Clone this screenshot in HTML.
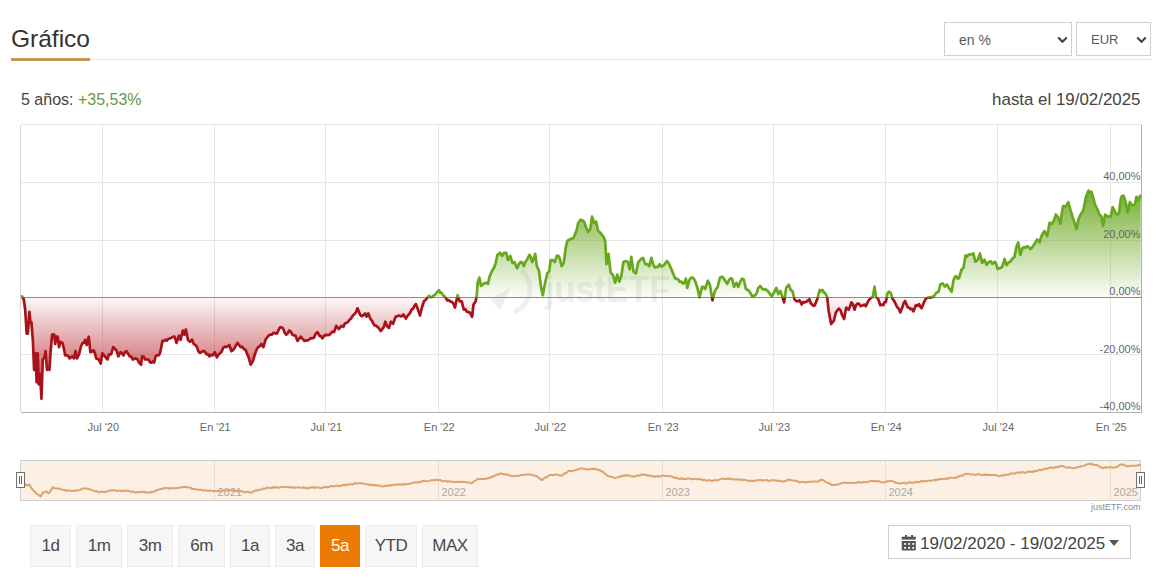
<!DOCTYPE html>
<html><head><meta charset="utf-8">
<style>
html,body{margin:0;padding:0;background:#fff;}
body{width:1157px;height:580px;position:relative;overflow:hidden;font-family:"Liberation Sans",sans-serif;color:#444;}
.abs{position:absolute;white-space:nowrap;}
.title{left:11px;top:24px;font-size:24.5px;color:#333;line-height:30px;}
.uline{left:11px;top:59px;width:1140px;height:1px;background:#e3e3e3;}
.oline{left:11px;top:58px;width:79px;height:3px;background:#c4974f;}
.sel{position:absolute;top:22px;height:32px;border:1px solid #cfcfcf;background:#fff;font-size:14px;color:#5a5a5a;line-height:34px;}
.chev{position:absolute;top:12px;width:6px;height:6px;border-right:2px solid #444;border-bottom:2px solid #444;transform:rotate(45deg);}
.perf{left:21px;top:88.5px;font-size:16px;line-height:22px;color:#444;}
.perf span{color:#679a45;}
.hasta{right:16.5px;top:89px;font-size:16.9px;line-height:22px;color:#444;}
.btn{position:absolute;top:525px;height:42px;border:1px solid #ececec;background:#f6f6f6;font-size:17px;line-height:40px;text-align:center;color:#4a4a4a;box-sizing:border-box;letter-spacing:-0.5px;}
.btn.act{background:#eb7a04;border-color:#eb7a04;color:#fffaf0;}
.date{left:888px;top:525px;width:241px;height:32px;border:1px solid #cfcfcf;font-size:17px;line-height:32px;color:#444;}
</style></head><body>
<svg width="1157" height="580" viewBox="0 0 1157 580" style="position:absolute;left:0;top:0">
<defs>
  <linearGradient id="gG" gradientUnits="userSpaceOnUse" x1="0" y1="190" x2="0" y2="297.5">
    <stop offset="0" stop-color="#6aa820" stop-opacity="0.92"/>
    <stop offset="1" stop-color="#6aa820" stop-opacity="0.02"/>
  </linearGradient>
  <linearGradient id="gR" gradientUnits="userSpaceOnUse" x1="0" y1="297.5" x2="0" y2="400">
    <stop offset="0" stop-color="#b5121b" stop-opacity="0.03"/>
    <stop offset="1" stop-color="#b5121b" stop-opacity="0.85"/>
  </linearGradient>
  <clipPath id="cUp"><rect x="0" y="0" width="1157" height="297.5"/></clipPath>
  <clipPath id="cDn"><rect x="0" y="297.5" width="1157" height="300"/></clipPath>
</defs>
<g stroke="#e6e6e6" stroke-width="1" fill="none" shape-rendering="crispEdges">
  <line x1="102.5" y1="124.5" x2="102.5" y2="412.0" /><line x1="214.5" y1="124.5" x2="214.5" y2="412.0" /><line x1="325.5" y1="124.5" x2="325.5" y2="412.0" /><line x1="438.5" y1="124.5" x2="438.5" y2="412.0" /><line x1="549.5" y1="124.5" x2="549.5" y2="412.0" /><line x1="662.5" y1="124.5" x2="662.5" y2="412.0" /><line x1="773.5" y1="124.5" x2="773.5" y2="412.0" /><line x1="885.5" y1="124.5" x2="885.5" y2="412.0" /><line x1="997.5" y1="124.5" x2="997.5" y2="412.0" /><line x1="1110.5" y1="124.5" x2="1110.5" y2="412.0" />
  <line x1="20.5" y1="182.5" x2="1141.5" y2="182.5" /><line x1="20.5" y1="240.5" x2="1141.5" y2="240.5" /><line x1="20.5" y1="354.5" x2="1141.5" y2="354.5" />
  <line x1="20.5" y1="124.5" x2="1141.5" y2="124.5" />
  <line x1="1141.5" y1="124.5" x2="1141.5" y2="412.0" stroke="#b0b0b0"/>
  <line x1="20.5" y1="124.5" x2="20.5" y2="412.0" stroke="#d8d8d8"/>
</g>
<g opacity="0.06" fill="#000">
  <path d="M521.4 270.6 A24 24 0 0 1 514.2 311.6" fill="none" stroke="#000" stroke-width="5"/>
  <path d="M490 298.7 L510.3 288 L500.2 309.9 Z" fill="#000"/>
  <text x="545" y="301.5" font-size="37" font-weight="bold" font-family="Liberation Sans, sans-serif" textLength="125" lengthAdjust="spacingAndGlyphs">justETF</text>
</g>
<path d="M20.8 297.5 L20.8 297.0 L22.1 296.4 L23.8 299.5 L25.2 309.8 L26.7 333.6 L27.9 333.6 L29.4 311.9 L30.4 322.2 L31.4 322.2 L32.9 340.9 L34.1 369.8 L35.6 353.3 L36.6 382.2 L37.7 353.3 L38.7 384.3 L40.1 374.0 L41.4 398.8 L42.8 359.5 L44.5 357.4 L45.5 351.2 L47.0 369.8 L48.4 367.8 L49.4 369.8 L50.5 353.3 L52.1 334.7 L54.2 334.7 L55.2 344.0 L56.3 336.7 L57.7 336.7 L59.0 347.1 L60.4 341.9 L62.5 342.9 L63.9 348.6 L65.2 355.4 L67.6 355.4 L69.7 358.4 L72.2 356.4 L73.9 358.4 L75.5 351.2 L77.0 358.4 L79.0 354.3 L81.1 346.0 L82.4 343.3 L83.8 342.9 L85.2 339.8 L86.7 345.0 L88.7 336.7 L90.4 352.2 L92.0 351.7 L93.5 350.2 L94.8 352.9 L96.2 358.4 L98.7 359.5 L100.7 363.6 L102.4 353.3 L104.9 356.4 L107.4 359.5 L109.0 354.3 L111.1 354.3 L113.2 347.1 L114.8 348.8 L116.3 350.2 L118.3 356.4 L120.4 352.2 L122.0 353.4 L123.5 355.4 L125.0 351.9 L126.6 351.2 L128.1 353.8 L129.7 356.4 L131.2 356.5 L132.8 359.5 L134.4 358.7 L135.9 358.4 L137.4 359.1 L139.0 362.6 L141.1 364.7 L142.1 356.4 L143.6 356.6 L145.2 359.5 L146.8 359.3 L148.3 359.5 L149.9 362.1 L151.4 362.6 L152.8 361.4 L154.1 362.6 L155.6 356.4 L157.1 355.0 L158.7 355.4 L160.0 353.3 L162.5 340.9 L163.8 340.8 L165.2 339.8 L166.8 340.7 L168.3 338.8 L169.9 338.5 L171.4 337.8 L172.9 336.9 L174.5 336.7 L176.5 342.9 L179.0 335.7 L180.7 339.8 L182.8 330.5 L184.4 334.7 L185.9 329.5 L187.9 339.8 L190.0 341.9 L192.1 339.8 L193.6 343.9 L195.2 345.0 L196.8 346.6 L198.3 351.2 L199.9 352.8 L201.4 352.2 L202.9 351.0 L204.5 351.2 L206.5 354.3 L208.1 354.2 L209.6 356.4 L211.2 354.7 L212.8 355.4 L214.8 352.2 L216.9 357.4 L218.4 354.7 L220.0 353.3 L221.6 351.7 L223.1 348.1 L224.6 346.6 L226.2 347.1 L227.8 346.3 L229.3 345.0 L231.4 351.2 L232.9 350.1 L234.5 348.1 L236.1 345.1 L237.6 342.9 L239.1 345.2 L240.7 347.1 L242.2 346.7 L243.8 349.1 L245.4 349.8 L246.9 353.3 L249.0 358.5 L250.6 364.7 L252.7 361.6 L255.2 353.3 L256.8 349.3 L258.3 347.1 L259.9 346.1 L261.4 344.0 L263.4 347.1 L265.5 339.8 L267.1 337.5 L268.6 335.7 L270.1 334.6 L271.7 334.7 L273.8 332.6 L275.4 333.4 L276.9 333.6 L278.4 330.4 L280.0 327.4 L281.6 327.3 L283.1 328.5 L284.6 332.5 L286.2 334.7 L287.8 333.2 L289.3 330.5 L290.9 331.8 L292.4 334.7 L293.9 335.4 L295.5 335.7 L297.6 340.9 L299.1 338.9 L300.7 336.7 L303.1 339.3 L304.6 341.0 L306.2 340.3 L307.8 340.5 L309.3 339.3 L310.9 338.1 L312.4 338.3 L313.9 337.7 L315.5 334.1 L317.6 332.1 L319.7 336.2 L321.0 336.0 L322.3 338.3 L324.8 335.2 L326.4 334.9 L327.9 335.2 L329.4 335.0 L331.0 333.1 L332.6 331.5 L334.1 332.1 L336.2 325.9 L337.5 327.4 L338.9 329.0 L341.4 325.9 L343.4 326.9 L344.9 323.4 L346.5 322.8 L348.1 321.8 L349.6 319.7 L351.2 318.4 L352.8 315.5 L354.4 314.2 L355.9 312.4 L357.5 308.3 L360.0 314.5 L361.6 316.2 L363.1 315.5 L365.2 313.5 L366.6 316.6 L368.3 313.5 L370.3 318.6 L371.9 320.6 L373.4 323.8 L374.9 325.5 L376.5 325.9 L378.6 327.9 L380.7 331.0 L382.2 329.3 L383.8 326.9 L385.4 321.7 L386.9 325.9 L389.0 327.9 L391.0 321.7 L393.1 323.8 L395.6 316.6 L397.2 316.3 L398.9 315.5 L401.4 316.6 L403.4 314.5 L405.9 318.6 L407.2 316.4 L408.6 314.5 L410.1 313.0 L411.7 309.3 L413.1 309.0 L414.4 305.8 L415.8 304.1 L417.5 308.3 L420.0 315.5 L422.0 307.2 L424.1 301.0 L425.6 300.0 L427.2 297.9 L428.8 296.0 L430.3 296.9 L431.9 297.0 L433.4 295.9 L434.9 294.8 L436.5 292.8 L439.0 290.1 L440.4 293.0 L441.7 292.8 L443.1 295.5 L444.6 296.2 L447.2 300.4 L448.8 300.2 L450.3 301.4 L451.9 302.1 L453.4 303.5 L454.9 307.6 L456.2 301.9 L457.6 295.2 L459.7 301.4 L461.7 301.4 L463.8 309.7 L465.4 309.2 L466.9 311.7 L468.4 312.1 L470.0 312.8 L472.1 316.9 L473.5 304.5 L475.6 301.4 L476.8 295.2 L477.6 282.8 L479.3 277.6 L481.0 285.9 L483.4 283.8 L485.9 282.8 L488.0 283.8 L489.6 276.6 L491.7 271.4 L493.8 268.3 L495.4 264.1 L497.5 254.8 L500.0 252.8 L502.1 255.9 L504.1 252.8 L506.2 252.8 L507.9 260.0 L510.3 255.9 L512.4 263.1 L514.5 262.1 L517.0 268.3 L519.0 264.1 L520.4 262.0 L521.7 262.1 L523.8 266.2 L525.3 261.9 L526.9 260.0 L529.4 254.8 L530.8 257.0 L532.1 262.1 L533.7 258.8 L535.2 253.8 L536.8 266.2 L538.9 270.3 L541.0 286.9 L542.8 295.2 L545.1 282.8 L547.2 273.5 L549.2 271.4 L550.7 260.0 L552.7 260.0 L554.8 262.1 L556.9 255.9 L558.2 255.7 L559.6 257.9 L561.6 266.2 L563.7 263.1 L565.8 247.6 L567.2 241.4 L568.8 239.5 L570.3 239.3 L571.8 238.5 L573.4 238.3 L575.5 233.1 L576.9 229.1 L578.2 222.8 L580.7 219.7 L583.1 220.7 L584.5 222.5 L585.8 226.9 L588.3 232.1 L590.3 229.0 L592.0 216.6 L594.1 222.8 L596.1 221.7 L598.2 231.0 L600.7 233.1 L602.2 235.0 L603.8 237.2 L605.2 241.4 L606.5 264.1 L608.5 253.8 L610.6 272.4 L613.1 275.5 L615.2 282.8 L617.2 274.5 L619.3 281.7 L621.4 275.5 L623.4 262.1 L625.9 261.0 L628.0 262.1 L629.6 269.3 L631.3 256.9 L633.4 271.4 L635.9 273.5 L638.3 262.1 L639.6 260.7 L641.0 259.0 L643.1 257.9 L645.2 264.1 L647.2 264.1 L649.3 266.2 L651.4 257.9 L653.4 265.2 L655.0 267.4 L656.5 267.2 L658.0 266.7 L659.6 264.1 L661.0 266.3 L662.3 266.2 L664.8 264.1 L666.9 261.0 L668.5 262.9 L670.0 266.2 L671.4 269.0 L672.7 272.4 L675.2 278.6 L676.8 278.7 L678.3 279.7 L679.8 281.9 L681.4 281.7 L683.0 283.7 L684.5 282.8 L685.9 278.6 L687.2 287.9 L689.6 279.7 L691.2 277.5 L692.7 277.6 L694.2 279.2 L695.8 282.8 L697.3 287.6 L698.9 294.1 L699.6 297.2 L702.1 286.9 L703.7 287.1 L705.2 289.0 L707.8 280.7 L709.9 284.8 L712.4 300.4 L714.9 291.0 L716.2 288.9 L717.6 286.9 L720.0 277.6 L722.1 276.6 L724.6 279.7 L725.9 282.0 L727.2 283.8 L729.3 279.7 L730.6 278.4 L732.0 278.6 L734.1 286.9 L736.5 282.8 L738.2 286.9 L740.7 280.7 L742.2 278.6 L743.8 279.7 L745.9 289.0 L747.5 289.7 L749.0 291.0 L750.5 293.2 L752.1 296.2 L753.7 295.9 L755.2 295.2 L756.8 293.0 L758.3 287.9 L760.3 285.9 L762.4 289.0 L764.0 289.6 L765.5 289.0 L767.0 290.6 L768.6 292.1 L770.2 294.5 L771.7 296.2 L773.8 293.1 L776.3 287.9 L778.3 294.1 L780.4 291.0 L782.1 296.2 L784.1 302.4 L786.2 287.9 L788.7 284.8 L790.7 290.0 L792.4 291.0 L794.5 299.3 L796.0 300.9 L797.6 301.4 L799.6 300.3 L801.7 304.5 L803.0 302.0 L804.4 302.4 L806.9 301.4 L809.4 299.3 L810.8 303.2 L812.1 304.5 L813.4 305.9 L814.7 305.5 L817.2 299.3 L819.7 290.0 L821.0 291.2 L822.4 290.0 L823.8 292.5 L825.1 293.1 L827.2 297.2 L828.6 310.7 L831.1 324.1 L832.5 322.2 L833.8 321.0 L835.8 312.8 L837.3 310.4 L838.9 308.6 L840.5 310.4 L842.0 314.8 L844.1 319.0 L846.2 307.6 L848.7 309.7 L850.0 306.5 L851.4 302.4 L853.0 304.6 L854.5 309.7 L856.0 305.2 L857.6 303.5 L859.2 303.9 L860.7 306.2 L863.1 305.2 L864.5 304.6 L865.8 306.2 L868.3 301.0 L870.8 297.9 L872.8 296.9 L874.5 286.6 L876.1 296.9 L878.2 299.0 L880.3 305.2 L881.8 304.7 L883.2 305.2 L884.5 302.2 L885.9 302.1 L887.3 293.8 L889.0 291.7 L890.6 292.8 L892.7 299.0 L894.8 302.1 L897.2 307.2 L898.8 308.7 L900.3 312.4 L902.4 307.2 L903.8 302.8 L905.1 301.0 L907.6 307.2 L909.2 307.8 L910.7 309.3 L912.0 308.8 L913.4 311.4 L915.9 305.2 L917.5 305.8 L919.0 304.1 L920.3 306.6 L921.6 308.3 L924.1 302.1 L925.7 298.9 L927.2 297.9 L928.8 297.1 L930.3 297.9 L931.8 296.9 L933.4 296.9 L935.5 293.8 L937.0 292.3 L938.6 291.7 L940.3 284.5 L942.7 283.5 L944.8 286.6 L946.9 284.5 L949.4 288.6 L951.6 291.7 L953.5 280.3 L954.9 277.0 L956.2 276.2 L957.5 278.4 L958.9 278.3 L961.4 270.0 L963.4 267.9 L965.5 255.5 L967.0 256.6 L968.6 254.5 L970.0 254.4 L971.3 254.5 L973.4 253.5 L975.4 261.7 L977.9 259.7 L980.0 253.5 L982.1 262.8 L984.5 259.7 L986.6 264.8 L988.0 263.2 L989.3 261.7 L990.8 261.4 L992.4 263.8 L994.9 261.7 L996.2 264.1 L997.6 269.0 L999.2 268.0 L1000.7 268.0 L1002.5 266.2 L1004.6 259.0 L1006.6 265.2 L1008.0 262.9 L1009.3 262.1 L1010.6 261.6 L1012.0 259.0 L1014.5 256.9 L1016.5 246.6 L1018.2 242.4 L1020.3 254.8 L1022.3 248.6 L1024.1 247.0 L1025.9 247.6 L1027.5 246.1 L1029.0 247.6 L1030.5 249.0 L1032.1 247.6 L1033.4 245.6 L1034.8 243.5 L1037.2 239.3 L1039.7 242.4 L1041.1 237.1 L1042.4 234.1 L1044.5 231.0 L1045.8 233.7 L1047.2 236.2 L1049.6 222.8 L1052.1 223.8 L1054.2 219.7 L1055.9 214.5 L1058.3 217.6 L1060.4 223.8 L1061.8 213.5 L1063.1 206.2 L1064.4 206.3 L1065.8 206.2 L1068.3 202.1 L1070.3 209.3 L1072.8 217.6 L1074.9 223.8 L1076.5 229.0 L1078.6 218.6 L1081.1 213.5 L1082.4 212.4 L1083.8 208.3 L1085.9 196.9 L1088.5 190.7 L1090.0 192.4 L1091.4 191.7 L1093.5 199.0 L1094.8 203.7 L1096.2 207.2 L1097.6 209.6 L1098.9 213.5 L1101.4 216.6 L1103.0 225.9 L1105.1 214.5 L1107.6 216.6 L1109.2 216.2 L1110.7 216.6 L1112.7 207.2 L1114.8 211.4 L1116.9 214.5 L1118.9 213.5 L1121.0 197.9 L1122.3 195.8 L1123.7 195.9 L1125.8 203.1 L1127.8 212.4 L1129.9 202.1 L1132.0 205.2 L1133.5 205.5 L1134.9 204.1 L1136.5 196.9 L1138.6 200.0 L1140.7 194.8 L1140.7 297.5 Z" fill="url(#gG)" clip-path="url(#cUp)"/>
<path d="M20.8 297.5 L20.8 297.0 L22.1 296.4 L23.8 299.5 L25.2 309.8 L26.7 333.6 L27.9 333.6 L29.4 311.9 L30.4 322.2 L31.4 322.2 L32.9 340.9 L34.1 369.8 L35.6 353.3 L36.6 382.2 L37.7 353.3 L38.7 384.3 L40.1 374.0 L41.4 398.8 L42.8 359.5 L44.5 357.4 L45.5 351.2 L47.0 369.8 L48.4 367.8 L49.4 369.8 L50.5 353.3 L52.1 334.7 L54.2 334.7 L55.2 344.0 L56.3 336.7 L57.7 336.7 L59.0 347.1 L60.4 341.9 L62.5 342.9 L63.9 348.6 L65.2 355.4 L67.6 355.4 L69.7 358.4 L72.2 356.4 L73.9 358.4 L75.5 351.2 L77.0 358.4 L79.0 354.3 L81.1 346.0 L82.4 343.3 L83.8 342.9 L85.2 339.8 L86.7 345.0 L88.7 336.7 L90.4 352.2 L92.0 351.7 L93.5 350.2 L94.8 352.9 L96.2 358.4 L98.7 359.5 L100.7 363.6 L102.4 353.3 L104.9 356.4 L107.4 359.5 L109.0 354.3 L111.1 354.3 L113.2 347.1 L114.8 348.8 L116.3 350.2 L118.3 356.4 L120.4 352.2 L122.0 353.4 L123.5 355.4 L125.0 351.9 L126.6 351.2 L128.1 353.8 L129.7 356.4 L131.2 356.5 L132.8 359.5 L134.4 358.7 L135.9 358.4 L137.4 359.1 L139.0 362.6 L141.1 364.7 L142.1 356.4 L143.6 356.6 L145.2 359.5 L146.8 359.3 L148.3 359.5 L149.9 362.1 L151.4 362.6 L152.8 361.4 L154.1 362.6 L155.6 356.4 L157.1 355.0 L158.7 355.4 L160.0 353.3 L162.5 340.9 L163.8 340.8 L165.2 339.8 L166.8 340.7 L168.3 338.8 L169.9 338.5 L171.4 337.8 L172.9 336.9 L174.5 336.7 L176.5 342.9 L179.0 335.7 L180.7 339.8 L182.8 330.5 L184.4 334.7 L185.9 329.5 L187.9 339.8 L190.0 341.9 L192.1 339.8 L193.6 343.9 L195.2 345.0 L196.8 346.6 L198.3 351.2 L199.9 352.8 L201.4 352.2 L202.9 351.0 L204.5 351.2 L206.5 354.3 L208.1 354.2 L209.6 356.4 L211.2 354.7 L212.8 355.4 L214.8 352.2 L216.9 357.4 L218.4 354.7 L220.0 353.3 L221.6 351.7 L223.1 348.1 L224.6 346.6 L226.2 347.1 L227.8 346.3 L229.3 345.0 L231.4 351.2 L232.9 350.1 L234.5 348.1 L236.1 345.1 L237.6 342.9 L239.1 345.2 L240.7 347.1 L242.2 346.7 L243.8 349.1 L245.4 349.8 L246.9 353.3 L249.0 358.5 L250.6 364.7 L252.7 361.6 L255.2 353.3 L256.8 349.3 L258.3 347.1 L259.9 346.1 L261.4 344.0 L263.4 347.1 L265.5 339.8 L267.1 337.5 L268.6 335.7 L270.1 334.6 L271.7 334.7 L273.8 332.6 L275.4 333.4 L276.9 333.6 L278.4 330.4 L280.0 327.4 L281.6 327.3 L283.1 328.5 L284.6 332.5 L286.2 334.7 L287.8 333.2 L289.3 330.5 L290.9 331.8 L292.4 334.7 L293.9 335.4 L295.5 335.7 L297.6 340.9 L299.1 338.9 L300.7 336.7 L303.1 339.3 L304.6 341.0 L306.2 340.3 L307.8 340.5 L309.3 339.3 L310.9 338.1 L312.4 338.3 L313.9 337.7 L315.5 334.1 L317.6 332.1 L319.7 336.2 L321.0 336.0 L322.3 338.3 L324.8 335.2 L326.4 334.9 L327.9 335.2 L329.4 335.0 L331.0 333.1 L332.6 331.5 L334.1 332.1 L336.2 325.9 L337.5 327.4 L338.9 329.0 L341.4 325.9 L343.4 326.9 L344.9 323.4 L346.5 322.8 L348.1 321.8 L349.6 319.7 L351.2 318.4 L352.8 315.5 L354.4 314.2 L355.9 312.4 L357.5 308.3 L360.0 314.5 L361.6 316.2 L363.1 315.5 L365.2 313.5 L366.6 316.6 L368.3 313.5 L370.3 318.6 L371.9 320.6 L373.4 323.8 L374.9 325.5 L376.5 325.9 L378.6 327.9 L380.7 331.0 L382.2 329.3 L383.8 326.9 L385.4 321.7 L386.9 325.9 L389.0 327.9 L391.0 321.7 L393.1 323.8 L395.6 316.6 L397.2 316.3 L398.9 315.5 L401.4 316.6 L403.4 314.5 L405.9 318.6 L407.2 316.4 L408.6 314.5 L410.1 313.0 L411.7 309.3 L413.1 309.0 L414.4 305.8 L415.8 304.1 L417.5 308.3 L420.0 315.5 L422.0 307.2 L424.1 301.0 L425.6 300.0 L427.2 297.9 L428.8 296.0 L430.3 296.9 L431.9 297.0 L433.4 295.9 L434.9 294.8 L436.5 292.8 L439.0 290.1 L440.4 293.0 L441.7 292.8 L443.1 295.5 L444.6 296.2 L447.2 300.4 L448.8 300.2 L450.3 301.4 L451.9 302.1 L453.4 303.5 L454.9 307.6 L456.2 301.9 L457.6 295.2 L459.7 301.4 L461.7 301.4 L463.8 309.7 L465.4 309.2 L466.9 311.7 L468.4 312.1 L470.0 312.8 L472.1 316.9 L473.5 304.5 L475.6 301.4 L476.8 295.2 L477.6 282.8 L479.3 277.6 L481.0 285.9 L483.4 283.8 L485.9 282.8 L488.0 283.8 L489.6 276.6 L491.7 271.4 L493.8 268.3 L495.4 264.1 L497.5 254.8 L500.0 252.8 L502.1 255.9 L504.1 252.8 L506.2 252.8 L507.9 260.0 L510.3 255.9 L512.4 263.1 L514.5 262.1 L517.0 268.3 L519.0 264.1 L520.4 262.0 L521.7 262.1 L523.8 266.2 L525.3 261.9 L526.9 260.0 L529.4 254.8 L530.8 257.0 L532.1 262.1 L533.7 258.8 L535.2 253.8 L536.8 266.2 L538.9 270.3 L541.0 286.9 L542.8 295.2 L545.1 282.8 L547.2 273.5 L549.2 271.4 L550.7 260.0 L552.7 260.0 L554.8 262.1 L556.9 255.9 L558.2 255.7 L559.6 257.9 L561.6 266.2 L563.7 263.1 L565.8 247.6 L567.2 241.4 L568.8 239.5 L570.3 239.3 L571.8 238.5 L573.4 238.3 L575.5 233.1 L576.9 229.1 L578.2 222.8 L580.7 219.7 L583.1 220.7 L584.5 222.5 L585.8 226.9 L588.3 232.1 L590.3 229.0 L592.0 216.6 L594.1 222.8 L596.1 221.7 L598.2 231.0 L600.7 233.1 L602.2 235.0 L603.8 237.2 L605.2 241.4 L606.5 264.1 L608.5 253.8 L610.6 272.4 L613.1 275.5 L615.2 282.8 L617.2 274.5 L619.3 281.7 L621.4 275.5 L623.4 262.1 L625.9 261.0 L628.0 262.1 L629.6 269.3 L631.3 256.9 L633.4 271.4 L635.9 273.5 L638.3 262.1 L639.6 260.7 L641.0 259.0 L643.1 257.9 L645.2 264.1 L647.2 264.1 L649.3 266.2 L651.4 257.9 L653.4 265.2 L655.0 267.4 L656.5 267.2 L658.0 266.7 L659.6 264.1 L661.0 266.3 L662.3 266.2 L664.8 264.1 L666.9 261.0 L668.5 262.9 L670.0 266.2 L671.4 269.0 L672.7 272.4 L675.2 278.6 L676.8 278.7 L678.3 279.7 L679.8 281.9 L681.4 281.7 L683.0 283.7 L684.5 282.8 L685.9 278.6 L687.2 287.9 L689.6 279.7 L691.2 277.5 L692.7 277.6 L694.2 279.2 L695.8 282.8 L697.3 287.6 L698.9 294.1 L699.6 297.2 L702.1 286.9 L703.7 287.1 L705.2 289.0 L707.8 280.7 L709.9 284.8 L712.4 300.4 L714.9 291.0 L716.2 288.9 L717.6 286.9 L720.0 277.6 L722.1 276.6 L724.6 279.7 L725.9 282.0 L727.2 283.8 L729.3 279.7 L730.6 278.4 L732.0 278.6 L734.1 286.9 L736.5 282.8 L738.2 286.9 L740.7 280.7 L742.2 278.6 L743.8 279.7 L745.9 289.0 L747.5 289.7 L749.0 291.0 L750.5 293.2 L752.1 296.2 L753.7 295.9 L755.2 295.2 L756.8 293.0 L758.3 287.9 L760.3 285.9 L762.4 289.0 L764.0 289.6 L765.5 289.0 L767.0 290.6 L768.6 292.1 L770.2 294.5 L771.7 296.2 L773.8 293.1 L776.3 287.9 L778.3 294.1 L780.4 291.0 L782.1 296.2 L784.1 302.4 L786.2 287.9 L788.7 284.8 L790.7 290.0 L792.4 291.0 L794.5 299.3 L796.0 300.9 L797.6 301.4 L799.6 300.3 L801.7 304.5 L803.0 302.0 L804.4 302.4 L806.9 301.4 L809.4 299.3 L810.8 303.2 L812.1 304.5 L813.4 305.9 L814.7 305.5 L817.2 299.3 L819.7 290.0 L821.0 291.2 L822.4 290.0 L823.8 292.5 L825.1 293.1 L827.2 297.2 L828.6 310.7 L831.1 324.1 L832.5 322.2 L833.8 321.0 L835.8 312.8 L837.3 310.4 L838.9 308.6 L840.5 310.4 L842.0 314.8 L844.1 319.0 L846.2 307.6 L848.7 309.7 L850.0 306.5 L851.4 302.4 L853.0 304.6 L854.5 309.7 L856.0 305.2 L857.6 303.5 L859.2 303.9 L860.7 306.2 L863.1 305.2 L864.5 304.6 L865.8 306.2 L868.3 301.0 L870.8 297.9 L872.8 296.9 L874.5 286.6 L876.1 296.9 L878.2 299.0 L880.3 305.2 L881.8 304.7 L883.2 305.2 L884.5 302.2 L885.9 302.1 L887.3 293.8 L889.0 291.7 L890.6 292.8 L892.7 299.0 L894.8 302.1 L897.2 307.2 L898.8 308.7 L900.3 312.4 L902.4 307.2 L903.8 302.8 L905.1 301.0 L907.6 307.2 L909.2 307.8 L910.7 309.3 L912.0 308.8 L913.4 311.4 L915.9 305.2 L917.5 305.8 L919.0 304.1 L920.3 306.6 L921.6 308.3 L924.1 302.1 L925.7 298.9 L927.2 297.9 L928.8 297.1 L930.3 297.9 L931.8 296.9 L933.4 296.9 L935.5 293.8 L937.0 292.3 L938.6 291.7 L940.3 284.5 L942.7 283.5 L944.8 286.6 L946.9 284.5 L949.4 288.6 L951.6 291.7 L953.5 280.3 L954.9 277.0 L956.2 276.2 L957.5 278.4 L958.9 278.3 L961.4 270.0 L963.4 267.9 L965.5 255.5 L967.0 256.6 L968.6 254.5 L970.0 254.4 L971.3 254.5 L973.4 253.5 L975.4 261.7 L977.9 259.7 L980.0 253.5 L982.1 262.8 L984.5 259.7 L986.6 264.8 L988.0 263.2 L989.3 261.7 L990.8 261.4 L992.4 263.8 L994.9 261.7 L996.2 264.1 L997.6 269.0 L999.2 268.0 L1000.7 268.0 L1002.5 266.2 L1004.6 259.0 L1006.6 265.2 L1008.0 262.9 L1009.3 262.1 L1010.6 261.6 L1012.0 259.0 L1014.5 256.9 L1016.5 246.6 L1018.2 242.4 L1020.3 254.8 L1022.3 248.6 L1024.1 247.0 L1025.9 247.6 L1027.5 246.1 L1029.0 247.6 L1030.5 249.0 L1032.1 247.6 L1033.4 245.6 L1034.8 243.5 L1037.2 239.3 L1039.7 242.4 L1041.1 237.1 L1042.4 234.1 L1044.5 231.0 L1045.8 233.7 L1047.2 236.2 L1049.6 222.8 L1052.1 223.8 L1054.2 219.7 L1055.9 214.5 L1058.3 217.6 L1060.4 223.8 L1061.8 213.5 L1063.1 206.2 L1064.4 206.3 L1065.8 206.2 L1068.3 202.1 L1070.3 209.3 L1072.8 217.6 L1074.9 223.8 L1076.5 229.0 L1078.6 218.6 L1081.1 213.5 L1082.4 212.4 L1083.8 208.3 L1085.9 196.9 L1088.5 190.7 L1090.0 192.4 L1091.4 191.7 L1093.5 199.0 L1094.8 203.7 L1096.2 207.2 L1097.6 209.6 L1098.9 213.5 L1101.4 216.6 L1103.0 225.9 L1105.1 214.5 L1107.6 216.6 L1109.2 216.2 L1110.7 216.6 L1112.7 207.2 L1114.8 211.4 L1116.9 214.5 L1118.9 213.5 L1121.0 197.9 L1122.3 195.8 L1123.7 195.9 L1125.8 203.1 L1127.8 212.4 L1129.9 202.1 L1132.0 205.2 L1133.5 205.5 L1134.9 204.1 L1136.5 196.9 L1138.6 200.0 L1140.7 194.8 L1140.7 297.5 Z" fill="url(#gR)" clip-path="url(#cDn)"/>
<g stroke="#b0b0b0" stroke-width="1" fill="none" shape-rendering="crispEdges">
  <line x1="20.5" y1="412.5" x2="1142.0" y2="412.5" />
  <line x1="1141.5" y1="124.5" x2="1141.5" y2="413.0" />
</g>
<line x1="20.5" y1="297.5" x2="1141.5" y2="297.5" stroke="#8a8a8a" stroke-width="1" shape-rendering="crispEdges"/>
<path d="M20.8 297.0 L22.1 296.4 L23.8 299.5 L25.2 309.8 L26.7 333.6 L27.9 333.6 L29.4 311.9 L30.4 322.2 L31.4 322.2 L32.9 340.9 L34.1 369.8 L35.6 353.3 L36.6 382.2 L37.7 353.3 L38.7 384.3 L40.1 374.0 L41.4 398.8 L42.8 359.5 L44.5 357.4 L45.5 351.2 L47.0 369.8 L48.4 367.8 L49.4 369.8 L50.5 353.3 L52.1 334.7 L54.2 334.7 L55.2 344.0 L56.3 336.7 L57.7 336.7 L59.0 347.1 L60.4 341.9 L62.5 342.9 L63.9 348.6 L65.2 355.4 L67.6 355.4 L69.7 358.4 L72.2 356.4 L73.9 358.4 L75.5 351.2 L77.0 358.4 L79.0 354.3 L81.1 346.0 L82.4 343.3 L83.8 342.9 L85.2 339.8 L86.7 345.0 L88.7 336.7 L90.4 352.2 L92.0 351.7 L93.5 350.2 L94.8 352.9 L96.2 358.4 L98.7 359.5 L100.7 363.6 L102.4 353.3 L104.9 356.4 L107.4 359.5 L109.0 354.3 L111.1 354.3 L113.2 347.1 L114.8 348.8 L116.3 350.2 L118.3 356.4 L120.4 352.2 L122.0 353.4 L123.5 355.4 L125.0 351.9 L126.6 351.2 L128.1 353.8 L129.7 356.4 L131.2 356.5 L132.8 359.5 L134.4 358.7 L135.9 358.4 L137.4 359.1 L139.0 362.6 L141.1 364.7 L142.1 356.4 L143.6 356.6 L145.2 359.5 L146.8 359.3 L148.3 359.5 L149.9 362.1 L151.4 362.6 L152.8 361.4 L154.1 362.6 L155.6 356.4 L157.1 355.0 L158.7 355.4 L160.0 353.3 L162.5 340.9 L163.8 340.8 L165.2 339.8 L166.8 340.7 L168.3 338.8 L169.9 338.5 L171.4 337.8 L172.9 336.9 L174.5 336.7 L176.5 342.9 L179.0 335.7 L180.7 339.8 L182.8 330.5 L184.4 334.7 L185.9 329.5 L187.9 339.8 L190.0 341.9 L192.1 339.8 L193.6 343.9 L195.2 345.0 L196.8 346.6 L198.3 351.2 L199.9 352.8 L201.4 352.2 L202.9 351.0 L204.5 351.2 L206.5 354.3 L208.1 354.2 L209.6 356.4 L211.2 354.7 L212.8 355.4 L214.8 352.2 L216.9 357.4 L218.4 354.7 L220.0 353.3 L221.6 351.7 L223.1 348.1 L224.6 346.6 L226.2 347.1 L227.8 346.3 L229.3 345.0 L231.4 351.2 L232.9 350.1 L234.5 348.1 L236.1 345.1 L237.6 342.9 L239.1 345.2 L240.7 347.1 L242.2 346.7 L243.8 349.1 L245.4 349.8 L246.9 353.3 L249.0 358.5 L250.6 364.7 L252.7 361.6 L255.2 353.3 L256.8 349.3 L258.3 347.1 L259.9 346.1 L261.4 344.0 L263.4 347.1 L265.5 339.8 L267.1 337.5 L268.6 335.7 L270.1 334.6 L271.7 334.7 L273.8 332.6 L275.4 333.4 L276.9 333.6 L278.4 330.4 L280.0 327.4 L281.6 327.3 L283.1 328.5 L284.6 332.5 L286.2 334.7 L287.8 333.2 L289.3 330.5 L290.9 331.8 L292.4 334.7 L293.9 335.4 L295.5 335.7 L297.6 340.9 L299.1 338.9 L300.7 336.7 L303.1 339.3 L304.6 341.0 L306.2 340.3 L307.8 340.5 L309.3 339.3 L310.9 338.1 L312.4 338.3 L313.9 337.7 L315.5 334.1 L317.6 332.1 L319.7 336.2 L321.0 336.0 L322.3 338.3 L324.8 335.2 L326.4 334.9 L327.9 335.2 L329.4 335.0 L331.0 333.1 L332.6 331.5 L334.1 332.1 L336.2 325.9 L337.5 327.4 L338.9 329.0 L341.4 325.9 L343.4 326.9 L344.9 323.4 L346.5 322.8 L348.1 321.8 L349.6 319.7 L351.2 318.4 L352.8 315.5 L354.4 314.2 L355.9 312.4 L357.5 308.3 L360.0 314.5 L361.6 316.2 L363.1 315.5 L365.2 313.5 L366.6 316.6 L368.3 313.5 L370.3 318.6 L371.9 320.6 L373.4 323.8 L374.9 325.5 L376.5 325.9 L378.6 327.9 L380.7 331.0 L382.2 329.3 L383.8 326.9 L385.4 321.7 L386.9 325.9 L389.0 327.9 L391.0 321.7 L393.1 323.8 L395.6 316.6 L397.2 316.3 L398.9 315.5 L401.4 316.6 L403.4 314.5 L405.9 318.6 L407.2 316.4 L408.6 314.5 L410.1 313.0 L411.7 309.3 L413.1 309.0 L414.4 305.8 L415.8 304.1 L417.5 308.3 L420.0 315.5 L422.0 307.2 L424.1 301.0 L425.6 300.0 L427.2 297.9 L428.8 296.0 L430.3 296.9 L431.9 297.0 L433.4 295.9 L434.9 294.8 L436.5 292.8 L439.0 290.1 L440.4 293.0 L441.7 292.8 L443.1 295.5 L444.6 296.2 L447.2 300.4 L448.8 300.2 L450.3 301.4 L451.9 302.1 L453.4 303.5 L454.9 307.6 L456.2 301.9 L457.6 295.2 L459.7 301.4 L461.7 301.4 L463.8 309.7 L465.4 309.2 L466.9 311.7 L468.4 312.1 L470.0 312.8 L472.1 316.9 L473.5 304.5 L475.6 301.4 L476.8 295.2 L477.6 282.8 L479.3 277.6 L481.0 285.9 L483.4 283.8 L485.9 282.8 L488.0 283.8 L489.6 276.6 L491.7 271.4 L493.8 268.3 L495.4 264.1 L497.5 254.8 L500.0 252.8 L502.1 255.9 L504.1 252.8 L506.2 252.8 L507.9 260.0 L510.3 255.9 L512.4 263.1 L514.5 262.1 L517.0 268.3 L519.0 264.1 L520.4 262.0 L521.7 262.1 L523.8 266.2 L525.3 261.9 L526.9 260.0 L529.4 254.8 L530.8 257.0 L532.1 262.1 L533.7 258.8 L535.2 253.8 L536.8 266.2 L538.9 270.3 L541.0 286.9 L542.8 295.2 L545.1 282.8 L547.2 273.5 L549.2 271.4 L550.7 260.0 L552.7 260.0 L554.8 262.1 L556.9 255.9 L558.2 255.7 L559.6 257.9 L561.6 266.2 L563.7 263.1 L565.8 247.6 L567.2 241.4 L568.8 239.5 L570.3 239.3 L571.8 238.5 L573.4 238.3 L575.5 233.1 L576.9 229.1 L578.2 222.8 L580.7 219.7 L583.1 220.7 L584.5 222.5 L585.8 226.9 L588.3 232.1 L590.3 229.0 L592.0 216.6 L594.1 222.8 L596.1 221.7 L598.2 231.0 L600.7 233.1 L602.2 235.0 L603.8 237.2 L605.2 241.4 L606.5 264.1 L608.5 253.8 L610.6 272.4 L613.1 275.5 L615.2 282.8 L617.2 274.5 L619.3 281.7 L621.4 275.5 L623.4 262.1 L625.9 261.0 L628.0 262.1 L629.6 269.3 L631.3 256.9 L633.4 271.4 L635.9 273.5 L638.3 262.1 L639.6 260.7 L641.0 259.0 L643.1 257.9 L645.2 264.1 L647.2 264.1 L649.3 266.2 L651.4 257.9 L653.4 265.2 L655.0 267.4 L656.5 267.2 L658.0 266.7 L659.6 264.1 L661.0 266.3 L662.3 266.2 L664.8 264.1 L666.9 261.0 L668.5 262.9 L670.0 266.2 L671.4 269.0 L672.7 272.4 L675.2 278.6 L676.8 278.7 L678.3 279.7 L679.8 281.9 L681.4 281.7 L683.0 283.7 L684.5 282.8 L685.9 278.6 L687.2 287.9 L689.6 279.7 L691.2 277.5 L692.7 277.6 L694.2 279.2 L695.8 282.8 L697.3 287.6 L698.9 294.1 L699.6 297.2 L702.1 286.9 L703.7 287.1 L705.2 289.0 L707.8 280.7 L709.9 284.8 L712.4 300.4 L714.9 291.0 L716.2 288.9 L717.6 286.9 L720.0 277.6 L722.1 276.6 L724.6 279.7 L725.9 282.0 L727.2 283.8 L729.3 279.7 L730.6 278.4 L732.0 278.6 L734.1 286.9 L736.5 282.8 L738.2 286.9 L740.7 280.7 L742.2 278.6 L743.8 279.7 L745.9 289.0 L747.5 289.7 L749.0 291.0 L750.5 293.2 L752.1 296.2 L753.7 295.9 L755.2 295.2 L756.8 293.0 L758.3 287.9 L760.3 285.9 L762.4 289.0 L764.0 289.6 L765.5 289.0 L767.0 290.6 L768.6 292.1 L770.2 294.5 L771.7 296.2 L773.8 293.1 L776.3 287.9 L778.3 294.1 L780.4 291.0 L782.1 296.2 L784.1 302.4 L786.2 287.9 L788.7 284.8 L790.7 290.0 L792.4 291.0 L794.5 299.3 L796.0 300.9 L797.6 301.4 L799.6 300.3 L801.7 304.5 L803.0 302.0 L804.4 302.4 L806.9 301.4 L809.4 299.3 L810.8 303.2 L812.1 304.5 L813.4 305.9 L814.7 305.5 L817.2 299.3 L819.7 290.0 L821.0 291.2 L822.4 290.0 L823.8 292.5 L825.1 293.1 L827.2 297.2 L828.6 310.7 L831.1 324.1 L832.5 322.2 L833.8 321.0 L835.8 312.8 L837.3 310.4 L838.9 308.6 L840.5 310.4 L842.0 314.8 L844.1 319.0 L846.2 307.6 L848.7 309.7 L850.0 306.5 L851.4 302.4 L853.0 304.6 L854.5 309.7 L856.0 305.2 L857.6 303.5 L859.2 303.9 L860.7 306.2 L863.1 305.2 L864.5 304.6 L865.8 306.2 L868.3 301.0 L870.8 297.9 L872.8 296.9 L874.5 286.6 L876.1 296.9 L878.2 299.0 L880.3 305.2 L881.8 304.7 L883.2 305.2 L884.5 302.2 L885.9 302.1 L887.3 293.8 L889.0 291.7 L890.6 292.8 L892.7 299.0 L894.8 302.1 L897.2 307.2 L898.8 308.7 L900.3 312.4 L902.4 307.2 L903.8 302.8 L905.1 301.0 L907.6 307.2 L909.2 307.8 L910.7 309.3 L912.0 308.8 L913.4 311.4 L915.9 305.2 L917.5 305.8 L919.0 304.1 L920.3 306.6 L921.6 308.3 L924.1 302.1 L925.7 298.9 L927.2 297.9 L928.8 297.1 L930.3 297.9 L931.8 296.9 L933.4 296.9 L935.5 293.8 L937.0 292.3 L938.6 291.7 L940.3 284.5 L942.7 283.5 L944.8 286.6 L946.9 284.5 L949.4 288.6 L951.6 291.7 L953.5 280.3 L954.9 277.0 L956.2 276.2 L957.5 278.4 L958.9 278.3 L961.4 270.0 L963.4 267.9 L965.5 255.5 L967.0 256.6 L968.6 254.5 L970.0 254.4 L971.3 254.5 L973.4 253.5 L975.4 261.7 L977.9 259.7 L980.0 253.5 L982.1 262.8 L984.5 259.7 L986.6 264.8 L988.0 263.2 L989.3 261.7 L990.8 261.4 L992.4 263.8 L994.9 261.7 L996.2 264.1 L997.6 269.0 L999.2 268.0 L1000.7 268.0 L1002.5 266.2 L1004.6 259.0 L1006.6 265.2 L1008.0 262.9 L1009.3 262.1 L1010.6 261.6 L1012.0 259.0 L1014.5 256.9 L1016.5 246.6 L1018.2 242.4 L1020.3 254.8 L1022.3 248.6 L1024.1 247.0 L1025.9 247.6 L1027.5 246.1 L1029.0 247.6 L1030.5 249.0 L1032.1 247.6 L1033.4 245.6 L1034.8 243.5 L1037.2 239.3 L1039.7 242.4 L1041.1 237.1 L1042.4 234.1 L1044.5 231.0 L1045.8 233.7 L1047.2 236.2 L1049.6 222.8 L1052.1 223.8 L1054.2 219.7 L1055.9 214.5 L1058.3 217.6 L1060.4 223.8 L1061.8 213.5 L1063.1 206.2 L1064.4 206.3 L1065.8 206.2 L1068.3 202.1 L1070.3 209.3 L1072.8 217.6 L1074.9 223.8 L1076.5 229.0 L1078.6 218.6 L1081.1 213.5 L1082.4 212.4 L1083.8 208.3 L1085.9 196.9 L1088.5 190.7 L1090.0 192.4 L1091.4 191.7 L1093.5 199.0 L1094.8 203.7 L1096.2 207.2 L1097.6 209.6 L1098.9 213.5 L1101.4 216.6 L1103.0 225.9 L1105.1 214.5 L1107.6 216.6 L1109.2 216.2 L1110.7 216.6 L1112.7 207.2 L1114.8 211.4 L1116.9 214.5 L1118.9 213.5 L1121.0 197.9 L1122.3 195.8 L1123.7 195.9 L1125.8 203.1 L1127.8 212.4 L1129.9 202.1 L1132.0 205.2 L1133.5 205.5 L1134.9 204.1 L1136.5 196.9 L1138.6 200.0 L1140.7 194.8" fill="none" stroke="#68a81c" stroke-width="2.7" stroke-linejoin="round" clip-path="url(#cUp)"/>
<path d="M20.8 297.0 L22.1 296.4 L23.8 299.5 L25.2 309.8 L26.7 333.6 L27.9 333.6 L29.4 311.9 L30.4 322.2 L31.4 322.2 L32.9 340.9 L34.1 369.8 L35.6 353.3 L36.6 382.2 L37.7 353.3 L38.7 384.3 L40.1 374.0 L41.4 398.8 L42.8 359.5 L44.5 357.4 L45.5 351.2 L47.0 369.8 L48.4 367.8 L49.4 369.8 L50.5 353.3 L52.1 334.7 L54.2 334.7 L55.2 344.0 L56.3 336.7 L57.7 336.7 L59.0 347.1 L60.4 341.9 L62.5 342.9 L63.9 348.6 L65.2 355.4 L67.6 355.4 L69.7 358.4 L72.2 356.4 L73.9 358.4 L75.5 351.2 L77.0 358.4 L79.0 354.3 L81.1 346.0 L82.4 343.3 L83.8 342.9 L85.2 339.8 L86.7 345.0 L88.7 336.7 L90.4 352.2 L92.0 351.7 L93.5 350.2 L94.8 352.9 L96.2 358.4 L98.7 359.5 L100.7 363.6 L102.4 353.3 L104.9 356.4 L107.4 359.5 L109.0 354.3 L111.1 354.3 L113.2 347.1 L114.8 348.8 L116.3 350.2 L118.3 356.4 L120.4 352.2 L122.0 353.4 L123.5 355.4 L125.0 351.9 L126.6 351.2 L128.1 353.8 L129.7 356.4 L131.2 356.5 L132.8 359.5 L134.4 358.7 L135.9 358.4 L137.4 359.1 L139.0 362.6 L141.1 364.7 L142.1 356.4 L143.6 356.6 L145.2 359.5 L146.8 359.3 L148.3 359.5 L149.9 362.1 L151.4 362.6 L152.8 361.4 L154.1 362.6 L155.6 356.4 L157.1 355.0 L158.7 355.4 L160.0 353.3 L162.5 340.9 L163.8 340.8 L165.2 339.8 L166.8 340.7 L168.3 338.8 L169.9 338.5 L171.4 337.8 L172.9 336.9 L174.5 336.7 L176.5 342.9 L179.0 335.7 L180.7 339.8 L182.8 330.5 L184.4 334.7 L185.9 329.5 L187.9 339.8 L190.0 341.9 L192.1 339.8 L193.6 343.9 L195.2 345.0 L196.8 346.6 L198.3 351.2 L199.9 352.8 L201.4 352.2 L202.9 351.0 L204.5 351.2 L206.5 354.3 L208.1 354.2 L209.6 356.4 L211.2 354.7 L212.8 355.4 L214.8 352.2 L216.9 357.4 L218.4 354.7 L220.0 353.3 L221.6 351.7 L223.1 348.1 L224.6 346.6 L226.2 347.1 L227.8 346.3 L229.3 345.0 L231.4 351.2 L232.9 350.1 L234.5 348.1 L236.1 345.1 L237.6 342.9 L239.1 345.2 L240.7 347.1 L242.2 346.7 L243.8 349.1 L245.4 349.8 L246.9 353.3 L249.0 358.5 L250.6 364.7 L252.7 361.6 L255.2 353.3 L256.8 349.3 L258.3 347.1 L259.9 346.1 L261.4 344.0 L263.4 347.1 L265.5 339.8 L267.1 337.5 L268.6 335.7 L270.1 334.6 L271.7 334.7 L273.8 332.6 L275.4 333.4 L276.9 333.6 L278.4 330.4 L280.0 327.4 L281.6 327.3 L283.1 328.5 L284.6 332.5 L286.2 334.7 L287.8 333.2 L289.3 330.5 L290.9 331.8 L292.4 334.7 L293.9 335.4 L295.5 335.7 L297.6 340.9 L299.1 338.9 L300.7 336.7 L303.1 339.3 L304.6 341.0 L306.2 340.3 L307.8 340.5 L309.3 339.3 L310.9 338.1 L312.4 338.3 L313.9 337.7 L315.5 334.1 L317.6 332.1 L319.7 336.2 L321.0 336.0 L322.3 338.3 L324.8 335.2 L326.4 334.9 L327.9 335.2 L329.4 335.0 L331.0 333.1 L332.6 331.5 L334.1 332.1 L336.2 325.9 L337.5 327.4 L338.9 329.0 L341.4 325.9 L343.4 326.9 L344.9 323.4 L346.5 322.8 L348.1 321.8 L349.6 319.7 L351.2 318.4 L352.8 315.5 L354.4 314.2 L355.9 312.4 L357.5 308.3 L360.0 314.5 L361.6 316.2 L363.1 315.5 L365.2 313.5 L366.6 316.6 L368.3 313.5 L370.3 318.6 L371.9 320.6 L373.4 323.8 L374.9 325.5 L376.5 325.9 L378.6 327.9 L380.7 331.0 L382.2 329.3 L383.8 326.9 L385.4 321.7 L386.9 325.9 L389.0 327.9 L391.0 321.7 L393.1 323.8 L395.6 316.6 L397.2 316.3 L398.9 315.5 L401.4 316.6 L403.4 314.5 L405.9 318.6 L407.2 316.4 L408.6 314.5 L410.1 313.0 L411.7 309.3 L413.1 309.0 L414.4 305.8 L415.8 304.1 L417.5 308.3 L420.0 315.5 L422.0 307.2 L424.1 301.0 L425.6 300.0 L427.2 297.9 L428.8 296.0 L430.3 296.9 L431.9 297.0 L433.4 295.9 L434.9 294.8 L436.5 292.8 L439.0 290.1 L440.4 293.0 L441.7 292.8 L443.1 295.5 L444.6 296.2 L447.2 300.4 L448.8 300.2 L450.3 301.4 L451.9 302.1 L453.4 303.5 L454.9 307.6 L456.2 301.9 L457.6 295.2 L459.7 301.4 L461.7 301.4 L463.8 309.7 L465.4 309.2 L466.9 311.7 L468.4 312.1 L470.0 312.8 L472.1 316.9 L473.5 304.5 L475.6 301.4 L476.8 295.2 L477.6 282.8 L479.3 277.6 L481.0 285.9 L483.4 283.8 L485.9 282.8 L488.0 283.8 L489.6 276.6 L491.7 271.4 L493.8 268.3 L495.4 264.1 L497.5 254.8 L500.0 252.8 L502.1 255.9 L504.1 252.8 L506.2 252.8 L507.9 260.0 L510.3 255.9 L512.4 263.1 L514.5 262.1 L517.0 268.3 L519.0 264.1 L520.4 262.0 L521.7 262.1 L523.8 266.2 L525.3 261.9 L526.9 260.0 L529.4 254.8 L530.8 257.0 L532.1 262.1 L533.7 258.8 L535.2 253.8 L536.8 266.2 L538.9 270.3 L541.0 286.9 L542.8 295.2 L545.1 282.8 L547.2 273.5 L549.2 271.4 L550.7 260.0 L552.7 260.0 L554.8 262.1 L556.9 255.9 L558.2 255.7 L559.6 257.9 L561.6 266.2 L563.7 263.1 L565.8 247.6 L567.2 241.4 L568.8 239.5 L570.3 239.3 L571.8 238.5 L573.4 238.3 L575.5 233.1 L576.9 229.1 L578.2 222.8 L580.7 219.7 L583.1 220.7 L584.5 222.5 L585.8 226.9 L588.3 232.1 L590.3 229.0 L592.0 216.6 L594.1 222.8 L596.1 221.7 L598.2 231.0 L600.7 233.1 L602.2 235.0 L603.8 237.2 L605.2 241.4 L606.5 264.1 L608.5 253.8 L610.6 272.4 L613.1 275.5 L615.2 282.8 L617.2 274.5 L619.3 281.7 L621.4 275.5 L623.4 262.1 L625.9 261.0 L628.0 262.1 L629.6 269.3 L631.3 256.9 L633.4 271.4 L635.9 273.5 L638.3 262.1 L639.6 260.7 L641.0 259.0 L643.1 257.9 L645.2 264.1 L647.2 264.1 L649.3 266.2 L651.4 257.9 L653.4 265.2 L655.0 267.4 L656.5 267.2 L658.0 266.7 L659.6 264.1 L661.0 266.3 L662.3 266.2 L664.8 264.1 L666.9 261.0 L668.5 262.9 L670.0 266.2 L671.4 269.0 L672.7 272.4 L675.2 278.6 L676.8 278.7 L678.3 279.7 L679.8 281.9 L681.4 281.7 L683.0 283.7 L684.5 282.8 L685.9 278.6 L687.2 287.9 L689.6 279.7 L691.2 277.5 L692.7 277.6 L694.2 279.2 L695.8 282.8 L697.3 287.6 L698.9 294.1 L699.6 297.2 L702.1 286.9 L703.7 287.1 L705.2 289.0 L707.8 280.7 L709.9 284.8 L712.4 300.4 L714.9 291.0 L716.2 288.9 L717.6 286.9 L720.0 277.6 L722.1 276.6 L724.6 279.7 L725.9 282.0 L727.2 283.8 L729.3 279.7 L730.6 278.4 L732.0 278.6 L734.1 286.9 L736.5 282.8 L738.2 286.9 L740.7 280.7 L742.2 278.6 L743.8 279.7 L745.9 289.0 L747.5 289.7 L749.0 291.0 L750.5 293.2 L752.1 296.2 L753.7 295.9 L755.2 295.2 L756.8 293.0 L758.3 287.9 L760.3 285.9 L762.4 289.0 L764.0 289.6 L765.5 289.0 L767.0 290.6 L768.6 292.1 L770.2 294.5 L771.7 296.2 L773.8 293.1 L776.3 287.9 L778.3 294.1 L780.4 291.0 L782.1 296.2 L784.1 302.4 L786.2 287.9 L788.7 284.8 L790.7 290.0 L792.4 291.0 L794.5 299.3 L796.0 300.9 L797.6 301.4 L799.6 300.3 L801.7 304.5 L803.0 302.0 L804.4 302.4 L806.9 301.4 L809.4 299.3 L810.8 303.2 L812.1 304.5 L813.4 305.9 L814.7 305.5 L817.2 299.3 L819.7 290.0 L821.0 291.2 L822.4 290.0 L823.8 292.5 L825.1 293.1 L827.2 297.2 L828.6 310.7 L831.1 324.1 L832.5 322.2 L833.8 321.0 L835.8 312.8 L837.3 310.4 L838.9 308.6 L840.5 310.4 L842.0 314.8 L844.1 319.0 L846.2 307.6 L848.7 309.7 L850.0 306.5 L851.4 302.4 L853.0 304.6 L854.5 309.7 L856.0 305.2 L857.6 303.5 L859.2 303.9 L860.7 306.2 L863.1 305.2 L864.5 304.6 L865.8 306.2 L868.3 301.0 L870.8 297.9 L872.8 296.9 L874.5 286.6 L876.1 296.9 L878.2 299.0 L880.3 305.2 L881.8 304.7 L883.2 305.2 L884.5 302.2 L885.9 302.1 L887.3 293.8 L889.0 291.7 L890.6 292.8 L892.7 299.0 L894.8 302.1 L897.2 307.2 L898.8 308.7 L900.3 312.4 L902.4 307.2 L903.8 302.8 L905.1 301.0 L907.6 307.2 L909.2 307.8 L910.7 309.3 L912.0 308.8 L913.4 311.4 L915.9 305.2 L917.5 305.8 L919.0 304.1 L920.3 306.6 L921.6 308.3 L924.1 302.1 L925.7 298.9 L927.2 297.9 L928.8 297.1 L930.3 297.9 L931.8 296.9 L933.4 296.9 L935.5 293.8 L937.0 292.3 L938.6 291.7 L940.3 284.5 L942.7 283.5 L944.8 286.6 L946.9 284.5 L949.4 288.6 L951.6 291.7 L953.5 280.3 L954.9 277.0 L956.2 276.2 L957.5 278.4 L958.9 278.3 L961.4 270.0 L963.4 267.9 L965.5 255.5 L967.0 256.6 L968.6 254.5 L970.0 254.4 L971.3 254.5 L973.4 253.5 L975.4 261.7 L977.9 259.7 L980.0 253.5 L982.1 262.8 L984.5 259.7 L986.6 264.8 L988.0 263.2 L989.3 261.7 L990.8 261.4 L992.4 263.8 L994.9 261.7 L996.2 264.1 L997.6 269.0 L999.2 268.0 L1000.7 268.0 L1002.5 266.2 L1004.6 259.0 L1006.6 265.2 L1008.0 262.9 L1009.3 262.1 L1010.6 261.6 L1012.0 259.0 L1014.5 256.9 L1016.5 246.6 L1018.2 242.4 L1020.3 254.8 L1022.3 248.6 L1024.1 247.0 L1025.9 247.6 L1027.5 246.1 L1029.0 247.6 L1030.5 249.0 L1032.1 247.6 L1033.4 245.6 L1034.8 243.5 L1037.2 239.3 L1039.7 242.4 L1041.1 237.1 L1042.4 234.1 L1044.5 231.0 L1045.8 233.7 L1047.2 236.2 L1049.6 222.8 L1052.1 223.8 L1054.2 219.7 L1055.9 214.5 L1058.3 217.6 L1060.4 223.8 L1061.8 213.5 L1063.1 206.2 L1064.4 206.3 L1065.8 206.2 L1068.3 202.1 L1070.3 209.3 L1072.8 217.6 L1074.9 223.8 L1076.5 229.0 L1078.6 218.6 L1081.1 213.5 L1082.4 212.4 L1083.8 208.3 L1085.9 196.9 L1088.5 190.7 L1090.0 192.4 L1091.4 191.7 L1093.5 199.0 L1094.8 203.7 L1096.2 207.2 L1097.6 209.6 L1098.9 213.5 L1101.4 216.6 L1103.0 225.9 L1105.1 214.5 L1107.6 216.6 L1109.2 216.2 L1110.7 216.6 L1112.7 207.2 L1114.8 211.4 L1116.9 214.5 L1118.9 213.5 L1121.0 197.9 L1122.3 195.8 L1123.7 195.9 L1125.8 203.1 L1127.8 212.4 L1129.9 202.1 L1132.0 205.2 L1133.5 205.5 L1134.9 204.1 L1136.5 196.9 L1138.6 200.0 L1140.7 194.8" fill="none" stroke="#a8121a" stroke-width="2.7" stroke-linejoin="round" clip-path="url(#cDn)"/>
<g font-family="Liberation Sans, sans-serif" font-size="11" fill="#666">
  <text x="1140.5" y="180.0" text-anchor="end">40,00%</text><text x="1140.5" y="237.5" text-anchor="end">20,00%</text><text x="1140.5" y="295.0" text-anchor="end">0,00%</text><text x="1140.5" y="352.5" text-anchor="end">-20,00%</text><text x="1140.5" y="410.0" text-anchor="end">-40,00%</text>
  <text x="103.3" y="431" text-anchor="middle">Jul '20</text><text x="215.3" y="431" text-anchor="middle">En '21</text><text x="326.3" y="431" text-anchor="middle">Jul '21</text><text x="439.3" y="431" text-anchor="middle">En '22</text><text x="550.3" y="431" text-anchor="middle">Jul '22</text><text x="663.3" y="431" text-anchor="middle">En '23</text><text x="774.3" y="431" text-anchor="middle">Jul '23</text><text x="886.3" y="431" text-anchor="middle">En '24</text><text x="998.3" y="431" text-anchor="middle">Jul '24</text><text x="1111.3" y="431" text-anchor="middle">En '25</text>
</g>
<rect x="20.5" y="460.5" width="1120.0" height="40.0" fill="#fcf0e5" stroke="#cfcfcf" stroke-width="1"/>
<g stroke="#e9dccf" stroke-width="1" shape-rendering="crispEdges"><line x1="214.5" y1="460.5" x2="214.5" y2="500.5" /><line x1="438.5" y1="460.5" x2="438.5" y2="500.5" /><line x1="662.5" y1="460.5" x2="662.5" y2="500.5" /><line x1="885.5" y1="460.5" x2="885.5" y2="500.5" /><line x1="1110.5" y1="460.5" x2="1110.5" y2="500.5" /></g>
<g font-family="Liberation Sans, sans-serif" font-size="11" fill="#aaa"><text x="217.5" y="496">2021</text><text x="441.5" y="496">2022</text><text x="665.5" y="496">2023</text><text x="888.5" y="496">2024</text><text x="1113.5" y="496">2025</text></g>
<path d="M20.8 483.1 L22.6 483.1 L24.3 483.1 L26.8 485.7 L29.3 484.6 L31.1 487.7 L33.0 490.2 L34.9 491.8 L36.8 493.9 L38.7 494.9 L40.6 496.5 L43.1 492.2 L44.6 492.2 L46.1 491.4 L48.6 493.4 L49.9 491.9 L51.3 489.7 L52.6 487.2 L54.0 487.9 L55.4 488.2 L56.7 488.4 L58.1 488.4 L59.6 488.6 L61.1 489.4 L62.6 489.7 L64.1 489.8 L65.6 490.9 L67.1 490.3 L68.6 490.6 L70.1 490.6 L71.6 491.1 L73.1 490.9 L74.5 491.1 L75.9 490.2 L77.3 490.5 L78.8 490.2 L80.2 489.9 L81.6 488.9 L83.0 488.4 L84.4 488.4 L86.0 488.4 L87.6 488.7 L89.1 489.0 L90.7 489.7 L92.1 490.2 L93.6 490.9 L95.0 491.2 L96.4 491.1 L97.8 491.7 L99.3 492.2 L100.7 492.2 L102.1 491.5 L103.5 491.9 L104.9 492.0 L106.3 491.6 L107.6 491.4 L109.0 490.8 L110.4 490.3 L111.8 490.8 L113.2 490.2 L114.6 490.1 L116.0 490.7 L117.4 491.0 L118.8 490.4 L120.2 490.5 L121.6 491.2 L123.0 491.0 L124.4 490.4 L125.8 490.9 L127.2 490.6 L128.6 490.8 L130.0 491.8 L131.4 491.8 L132.7 491.2 L134.1 492.2 L135.5 492.5 L136.9 492.2 L138.3 492.2 L139.7 492.0 L141.1 492.3 L142.5 491.8 L143.9 491.6 L145.2 492.8 L146.6 492.4 L148.0 492.2 L149.4 492.7 L150.8 492.2 L152.2 491.7 L153.6 491.8 L155.0 491.3 L156.4 490.2 L157.8 489.8 L159.2 489.4 L160.6 488.9 L162.0 488.9 L163.4 488.4 L164.8 488.1 L166.3 488.2 L167.7 487.9 L169.1 488.8 L170.5 488.1 L172.0 488.2 L173.4 488.2 L174.8 488.1 L176.2 488.4 L177.6 487.6 L179.1 488.1 L180.5 487.4 L181.9 487.3 L183.3 487.1 L184.7 486.9 L186.1 486.7 L187.6 487.5 L189.1 487.5 L190.5 487.6 L191.9 488.9 L193.4 488.9 L194.8 488.7 L196.1 489.2 L197.5 489.7 L198.9 489.7 L200.3 489.6 L201.6 490.0 L203.0 490.2 L204.4 490.7 L205.8 490.1 L207.1 490.8 L208.5 490.9 L209.9 490.6 L211.4 490.6 L212.8 491.2 L214.2 490.9 L215.6 491.0 L217.1 491.2 L218.5 490.9 L219.9 491.3 L221.3 490.7 L222.7 490.8 L224.1 490.6 L225.4 490.5 L226.8 490.7 L228.2 490.3 L229.6 490.3 L231.0 490.2 L232.5 490.3 L234.0 491.0 L235.6 490.9 L237.1 491.2 L238.6 490.9 L240.0 491.6 L241.4 491.0 L242.8 491.6 L244.2 492.2 L245.5 492.3 L246.9 491.7 L248.3 491.8 L249.7 492.4 L251.1 492.7 L252.6 491.6 L254.1 491.2 L255.6 490.4 L257.1 490.5 L258.6 489.7 L260.0 489.8 L261.5 489.6 L262.9 488.4 L264.3 488.8 L265.7 488.5 L267.2 487.6 L268.6 487.7 L270.0 488.1 L271.4 488.1 L272.8 487.1 L274.2 487.9 L275.6 487.1 L277.0 487.2 L278.4 487.7 L279.8 487.4 L281.2 486.9 L282.6 486.6 L284.0 487.0 L285.4 487.2 L286.8 487.1 L288.1 487.0 L289.5 487.2 L290.9 487.8 L292.3 487.0 L293.7 487.7 L295.1 487.8 L296.5 487.6 L297.9 487.1 L299.4 487.5 L300.8 487.8 L302.2 487.7 L303.6 487.2 L305.0 487.7 L306.4 488.3 L307.7 488.0 L309.1 488.3 L310.5 487.2 L311.8 487.4 L313.2 487.1 L314.5 488.0 L315.9 487.4 L317.3 487.3 L318.6 487.6 L320.0 487.7 L321.4 488.1 L322.7 487.8 L324.1 487.0 L325.4 486.7 L326.8 487.5 L328.1 487.0 L329.5 487.0 L330.8 486.1 L332.2 485.9 L333.5 486.5 L334.9 486.1 L336.2 485.5 L337.6 485.9 L338.9 486.3 L340.3 485.7 L341.6 485.8 L342.9 484.7 L344.3 485.5 L345.6 484.4 L346.9 485.2 L348.3 484.5 L349.6 484.2 L350.9 484.3 L352.3 484.6 L353.6 483.6 L354.9 483.3 L356.3 483.6 L357.6 483.4 L359.0 483.3 L360.5 483.3 L361.9 483.5 L363.4 483.5 L364.8 483.9 L366.3 484.2 L367.7 484.6 L369.1 484.5 L370.4 485.2 L371.8 484.8 L373.2 485.3 L374.5 485.0 L375.9 485.4 L377.2 485.2 L378.6 485.6 L380.0 485.5 L381.3 486.5 L382.7 486.4 L384.1 486.3 L385.5 485.6 L386.9 485.8 L388.3 486.1 L389.6 484.9 L391.0 485.6 L392.4 484.9 L393.8 484.8 L395.2 484.6 L396.6 484.9 L398.0 484.3 L399.4 484.4 L400.8 484.5 L402.2 484.8 L403.6 483.9 L405.0 484.5 L406.4 484.2 L407.8 483.9 L409.2 483.9 L410.6 483.4 L412.0 483.1 L413.4 482.6 L414.7 482.5 L416.1 482.2 L417.5 482.8 L418.9 482.0 L420.3 482.1 L422.0 481.3 L423.6 480.8 L425.3 480.9 L426.7 481.2 L428.1 481.2 L429.4 480.9 L430.8 480.3 L432.2 480.2 L433.6 480.2 L435.0 480.3 L436.3 479.8 L437.7 480.1 L439.1 480.1 L440.5 480.0 L441.9 481.1 L443.2 481.3 L444.6 481.0 L446.0 480.8 L447.4 481.9 L448.8 481.3 L450.1 481.5 L451.5 481.3 L452.9 482.1 L454.3 482.0 L455.8 482.1 L457.2 482.1 L458.6 481.7 L460.0 482.1 L461.5 481.5 L462.9 482.1 L464.4 482.0 L465.8 482.0 L467.3 482.6 L468.8 482.4 L470.2 482.6 L471.7 483.4 L473.2 482.0 L474.8 480.8 L476.3 480.1 L477.9 478.9 L479.3 478.9 L480.8 479.1 L482.2 478.9 L483.7 478.9 L485.1 479.0 L486.6 478.3 L488.0 478.4 L489.4 477.6 L490.8 477.8 L492.2 476.3 L493.6 476.4 L494.9 475.7 L496.3 474.5 L497.7 474.8 L499.1 474.3 L500.5 473.3 L501.9 473.7 L503.3 474.2 L504.7 474.5 L506.1 474.0 L507.4 474.8 L508.8 475.0 L510.2 475.7 L511.6 476.0 L513.0 475.9 L514.4 476.2 L515.9 475.8 L517.3 476.0 L518.7 475.7 L520.1 475.6 L521.6 474.9 L523.0 475.1 L524.5 474.4 L526.0 474.5 L527.6 474.6 L529.1 474.2 L530.6 474.6 L532.1 475.3 L533.7 475.3 L535.2 475.7 L536.8 475.9 L538.5 477.5 L540.1 478.9 L541.8 480.1 L543.3 479.1 L544.8 477.5 L546.4 477.5 L547.9 476.4 L549.4 475.1 L551.0 475.0 L552.5 474.9 L554.0 474.9 L555.6 474.6 L557.2 474.4 L558.8 475.5 L560.3 475.3 L561.9 475.9 L563.5 474.2 L565.0 473.3 L566.6 472.7 L568.2 471.3 L569.7 470.7 L571.2 471.1 L572.7 471.2 L574.2 470.3 L575.7 470.1 L577.2 469.5 L578.8 469.1 L580.4 468.8 L581.9 468.1 L583.5 468.8 L585.0 469.0 L586.6 469.4 L588.2 469.6 L589.6 468.9 L590.9 468.9 L592.3 468.8 L593.6 469.3 L595.0 468.8 L596.6 469.2 L598.1 470.1 L599.7 470.1 L601.3 471.3 L602.8 471.8 L604.4 473.2 L606.0 474.7 L607.5 475.6 L609.0 476.3 L610.5 476.8 L612.1 476.8 L613.6 477.6 L615.1 478.1 L616.5 477.6 L618.0 477.2 L619.4 476.4 L620.8 476.9 L622.2 475.6 L623.7 476.1 L625.1 475.1 L626.5 475.8 L628.0 474.9 L629.4 475.6 L630.8 476.2 L632.2 476.6 L633.7 476.2 L635.1 476.4 L636.6 475.8 L638.1 475.3 L639.6 475.9 L641.1 474.6 L642.6 474.6 L644.0 474.9 L645.4 474.6 L646.8 475.2 L648.2 475.9 L649.6 475.2 L651.0 476.2 L652.4 476.0 L653.8 476.7 L655.2 476.4 L656.6 476.6 L658.0 476.0 L659.4 476.7 L660.8 476.2 L662.1 475.6 L663.5 475.5 L664.9 476.0 L666.3 475.9 L667.7 475.9 L669.1 476.0 L670.6 476.2 L672.0 476.8 L673.4 477.1 L674.8 478.1 L676.3 477.4 L677.7 478.4 L679.1 478.7 L680.4 478.9 L681.8 478.1 L683.2 479.1 L684.6 478.9 L685.9 479.2 L687.3 478.5 L688.7 478.6 L690.1 478.7 L691.4 479.5 L692.8 478.9 L694.2 479.1 L695.6 479.0 L697.0 479.2 L698.4 479.2 L699.7 479.0 L701.1 479.2 L702.5 480.2 L703.9 479.7 L705.3 480.1 L706.8 480.8 L708.3 480.1 L709.8 480.3 L711.3 480.8 L712.8 480.9 L714.2 480.2 L715.7 480.0 L717.1 480.4 L718.5 479.9 L719.9 479.5 L721.4 478.9 L722.8 478.4 L724.2 479.0 L725.5 479.1 L726.9 478.8 L728.3 479.1 L729.7 478.4 L731.0 479.3 L732.4 479.1 L733.8 479.6 L735.2 479.6 L736.5 479.2 L737.9 479.6 L739.3 479.2 L740.6 480.3 L742.0 479.5 L743.4 480.0 L744.7 480.0 L746.1 480.1 L747.4 480.7 L748.8 481.1 L750.2 480.4 L751.5 481.0 L752.9 480.9 L754.3 480.6 L755.7 480.8 L757.1 480.5 L758.5 480.1 L759.8 480.0 L761.2 480.0 L762.6 480.8 L764.0 480.2 L765.4 480.1 L766.8 479.9 L768.1 480.8 L769.5 481.0 L770.8 480.4 L772.2 480.2 L773.5 480.3 L774.9 480.3 L776.2 480.7 L777.6 480.5 L778.9 480.8 L780.3 480.9 L781.6 481.4 L783.0 481.4 L784.7 481.3 L786.3 480.5 L788.0 479.6 L789.4 479.8 L790.8 480.1 L792.2 480.5 L793.6 480.6 L794.9 480.8 L796.3 480.7 L797.7 481.3 L799.1 482.4 L800.5 482.1 L801.9 481.7 L803.4 482.1 L804.8 482.3 L806.3 482.5 L807.7 481.8 L809.2 481.8 L810.6 482.1 L812.0 481.6 L813.4 481.5 L814.8 481.4 L816.2 481.8 L817.5 481.4 L818.9 481.2 L820.3 480.0 L821.7 479.8 L823.1 480.1 L824.6 481.2 L826.0 482.3 L827.5 482.6 L829.0 483.6 L830.4 483.8 L831.9 485.2 L833.4 484.8 L834.8 485.1 L836.2 484.7 L837.7 484.4 L839.1 484.3 L840.6 483.4 L842.0 483.0 L843.5 482.7 L844.9 482.6 L846.4 483.0 L847.8 483.0 L849.3 483.2 L850.7 482.6 L852.1 482.9 L853.6 482.8 L855.0 482.9 L856.4 482.5 L857.8 482.7 L859.3 482.0 L860.7 482.6 L862.1 482.8 L863.6 481.9 L865.0 482.1 L866.4 482.4 L867.9 481.9 L869.3 481.4 L870.8 481.0 L872.2 480.9 L873.7 481.2 L875.1 480.9 L876.6 481.5 L878.1 481.1 L879.6 481.4 L881.1 482.3 L882.6 482.6 L884.1 482.4 L885.6 481.8 L887.1 481.2 L888.6 481.4 L890.1 480.9 L891.5 480.7 L893.0 481.4 L894.4 481.9 L895.8 482.9 L897.2 482.9 L898.7 483.5 L900.1 483.4 L901.5 483.3 L902.9 482.9 L904.3 482.8 L905.7 483.6 L907.0 483.2 L908.4 482.6 L909.8 482.2 L911.2 482.7 L912.6 482.6 L914.0 482.7 L915.3 482.2 L916.7 481.8 L918.1 482.2 L919.5 482.3 L920.8 481.3 L922.2 481.0 L923.6 481.2 L925.0 481.1 L926.3 481.3 L927.7 480.9 L929.1 480.4 L930.4 480.9 L931.8 480.6 L933.2 480.2 L934.5 479.6 L935.9 480.4 L937.2 479.4 L938.6 479.8 L940.0 478.9 L941.3 478.7 L942.7 478.9 L944.1 479.1 L945.5 478.4 L946.9 479.0 L948.3 478.3 L949.7 477.8 L951.1 477.7 L952.5 477.8 L953.9 477.9 L955.3 477.6 L956.7 477.7 L958.1 476.3 L959.5 476.2 L960.9 475.6 L962.2 476.1 L963.6 474.6 L965.0 474.1 L966.4 473.7 L967.8 473.8 L969.2 473.8 L970.6 474.5 L972.0 474.5 L973.4 474.4 L974.7 474.8 L976.1 474.9 L977.5 474.2 L978.9 474.1 L980.3 474.6 L981.7 475.2 L983.2 475.0 L984.6 474.3 L986.0 475.1 L987.4 474.8 L988.9 474.9 L990.3 475.1 L991.7 475.0 L993.2 474.9 L994.6 474.8 L996.1 475.3 L997.5 475.5 L999.0 476.3 L1000.4 475.9 L1001.7 475.2 L1003.1 475.9 L1004.4 474.8 L1005.8 474.7 L1007.1 475.0 L1008.5 474.8 L1009.8 474.0 L1011.2 473.3 L1012.5 473.6 L1013.9 473.2 L1015.2 473.6 L1016.6 472.5 L1017.9 472.6 L1019.3 472.4 L1020.7 473.0 L1022.1 471.9 L1023.5 472.3 L1024.8 472.7 L1026.2 472.6 L1027.6 471.7 L1029.0 471.6 L1030.4 472.1 L1031.8 471.3 L1033.1 472.0 L1034.5 470.9 L1035.9 471.2 L1037.3 471.1 L1038.6 470.1 L1040.0 469.7 L1041.4 470.2 L1042.8 469.5 L1044.1 468.8 L1045.5 468.8 L1046.9 468.8 L1048.4 468.1 L1049.8 467.8 L1051.2 467.2 L1052.6 467.9 L1054.1 467.8 L1055.5 467.1 L1057.0 467.1 L1058.5 467.3 L1060.0 466.0 L1061.5 466.1 L1063.0 466.3 L1064.4 466.6 L1065.9 467.4 L1067.3 467.7 L1068.7 467.3 L1070.1 467.4 L1071.6 467.9 L1073.0 468.3 L1074.5 467.9 L1076.0 468.0 L1077.6 466.7 L1079.1 467.1 L1080.6 466.3 L1082.0 466.2 L1083.5 465.9 L1084.9 465.4 L1086.4 464.8 L1087.8 464.0 L1089.3 463.8 L1090.9 463.9 L1092.4 464.2 L1094.0 465.0 L1095.6 465.0 L1097.1 465.2 L1098.6 466.0 L1100.1 467.3 L1101.6 467.3 L1103.1 468.3 L1104.6 467.5 L1106.1 467.3 L1107.6 467.6 L1109.1 467.1 L1110.6 467.1 L1112.3 467.7 L1114.0 467.6 L1115.7 467.1 L1117.4 466.8 L1119.0 465.1 L1120.7 464.5 L1122.2 464.4 L1123.7 464.7 L1125.2 465.6 L1126.7 466.2 L1128.2 466.3 L1129.6 466.1 L1131.0 465.7 L1132.4 465.7 L1133.8 465.8 L1135.3 465.7 L1136.7 465.6 L1138.1 465.6 L1139.5 465.0 L1140.6 465.0" fill="none" stroke="#dba46f" stroke-width="2" stroke-linejoin="round"/>
<g fill="#fff" stroke="#707070" stroke-width="1">
  <rect x="16.5" y="472.5" width="8" height="15"/>
  <rect x="1136.5" y="472.5" width="8" height="15"/>
</g>
<g stroke="#666" stroke-width="1" shape-rendering="crispEdges">
  <line x1="19.5" y1="476" x2="19.5" y2="484"/><line x1="21.5" y1="476" x2="21.5" y2="484"/>
  <line x1="1139.5" y1="476" x2="1139.5" y2="484"/><line x1="1141.5" y1="476" x2="1141.5" y2="484"/>
</g>
<text x="1140.5" y="509.5" text-anchor="end" font-family="Liberation Sans, sans-serif" font-size="9" fill="#8c8c8c">justETF.com</text>
</svg>
<div class="abs title">Gráfico</div>
<div class="abs uline"></div>
<div class="abs oline"></div>
<div class="sel" style="left:944px;width:126px"><span style="position:absolute;left:14px">en %</span><svg style="position:absolute;left:112px;top:13px" width="11" height="8"><path d="M1.2 1.5 L5.5 5.8 L9.8 1.5" fill="none" stroke="#444" stroke-width="2.2"/></svg></div>
<div class="sel" style="left:1076px;width:73px"><span style="position:absolute;left:14px;font-size:13px">EUR</span><svg style="position:absolute;left:59px;top:13px" width="11" height="8"><path d="M1.2 1.5 L5.5 5.8 L9.8 1.5" fill="none" stroke="#444" stroke-width="2.2"/></svg></div>
<div class="abs perf">5 años: <span>+35,53%</span></div>
<div class="abs hasta">hasta el 19/02/2025</div>
<div class="btn" style="left:30px;width:41px">1d</div><div class="btn" style="left:76px;width:46px">1m</div><div class="btn" style="left:127px;width:46px">3m</div><div class="btn" style="left:178px;width:47px">6m</div><div class="btn" style="left:230px;width:40px">1a</div><div class="btn" style="left:275px;width:40px">3a</div><div class="btn act" style="left:320px;width:40px">5a</div><div class="btn" style="left:365px;width:52px">YTD</div><div class="btn" style="left:422px;width:56px">MAX</div>
<div class="abs date"><svg width="16" height="18" viewBox="0 0 16 18" style="position:absolute;left:12px;top:8px"><g fill="#555"><rect x="4.0" y="1" width="2" height="3"/><rect x="10.1" y="1" width="2" height="3"/><rect x="0.7" y="2.7" width="14.1" height="2.9"/><path d="M0.7 7h14.1v8.6a1 1 0 0 1 -1 1H1.7a1 1 0 0 1 -1 -1z"/></g><g fill="#fff"><rect x="3.2" y="9.0" width="1.8" height="1.8"/><rect x="7.2" y="9.0" width="1.8" height="1.8"/><rect x="11.3" y="9.0" width="1.8" height="1.8"/><rect x="3.2" y="13.0" width="1.8" height="1.8"/><rect x="7.2" y="13.0" width="1.8" height="1.8"/><rect x="11.3" y="13.0" width="1.8" height="1.8"/></g></svg><span style="position:absolute;left:31px;top:2px">19/02/2020 - 19/02/2025</span><div style="position:absolute;left:220px;top:14px;width:0;height:0;border-left:5px solid transparent;border-right:5px solid transparent;border-top:6px solid #555"></div></div>
</body></html>
